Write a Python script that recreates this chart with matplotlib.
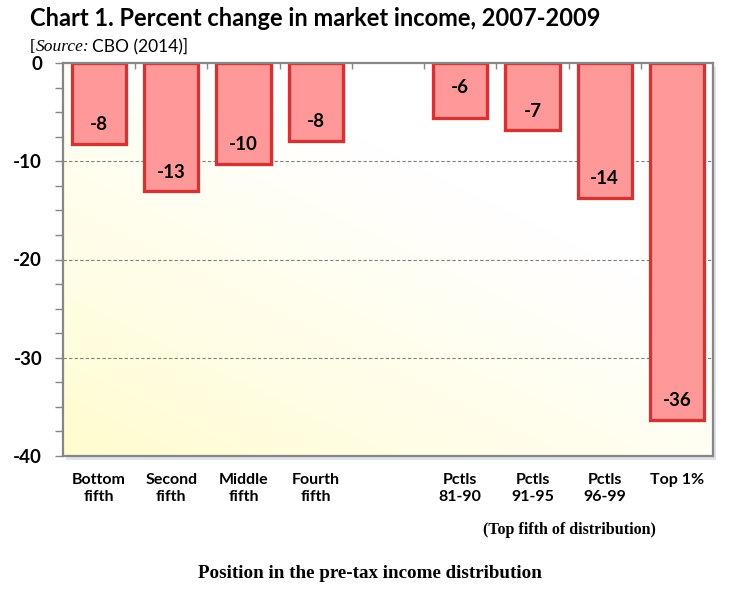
import numpy as np
import matplotlib
matplotlib.use("Agg")
import matplotlib.pyplot as plt
from matplotlib.patches import Rectangle
from matplotlib.ticker import MultipleLocator, FixedLocator

# ---- data ----
categories = ["Bottom\nfifth", "Second\nfifth", "Middle\nfifth", "Fourth\nfifth", "",
              "Pctls\n81-90", "Pctls\n91-95", "Pctls\n96-99", "Top 1%"]
values = [-8.2, -13.0, -10.3, -7.9, np.nan, -5.55, -6.8, -13.7, -36.3]
value_labels = ["-8", "-13", "-10", "-8", "", "-6", "-7", "-14", "-36"]
yticks = [0, -10, -20, -30, -40]
ytick_labels = ["0", "-10", "-20", "-30", "-40"]

SANS = ["Lato", "DejaVu Sans"]
SERIF = ["Liberation Serif", "DejaVu Serif"]

W, H = 731, 595
fig = plt.figure(figsize=(W / 100, H / 100), dpi=100)
fig.patch.set_facecolor("white")

L, R, T, B = 63, 713, 63, 456
# shadow behind plot area
shadow = Rectangle(((L + 3) / W, 1 - (B + 4) / H), (R - L) / W, (B - T) / H,
                   transform=fig.transFigure, facecolor="#dfe4ea",
                   edgecolor="none", zorder=0)
fig.patches.append(shadow)
ax = fig.add_axes([L / W, 1 - B / H, (R - L) / W, (B - T) / H])
ax.set_zorder(2)
n = len(categories)
x = np.arange(n)

# gradient background (light yellow bottom-left -> white top-right)
nx, ny = 200, 200
xn = np.linspace(0, 1, nx)[None, :]
yn = np.linspace(1, 0, ny)[:, None]
d = np.clip((xn * 0.9 + yn * 1.1) / 1.3, 0, 1) ** 0.8
yellow = np.array([1.0, 0.99, 0.80])
white = np.array([1.0, 1.0, 1.0])
img = yellow[None, None, :] * (1 - d[..., None]) + white[None, None, :] * d[..., None]
ax.imshow(img, extent=[-0.5, n - 0.5, -40, 0], aspect="auto", zorder=0,
          interpolation="bilinear")
ax.set_xlim(-0.5, n - 0.5)
ax.set_ylim(-40, 0)

# gridlines
for g in yticks[1:-1]:
    ax.axhline(g, color="#7f7f7f", lw=0.8, ls=(0, (3, 2)), zorder=1)

# bars
vals = np.array(values, dtype=float)
mask = ~np.isnan(vals)
ax.bar(x[mask], vals[mask], width=0.75, color="#FF9999", edgecolor="#D23434",
       linewidth=2.4, zorder=3)

# value labels
label_offsets = [1.9, 1.9, 2.0, 1.9, 0, 3.1, 1.9, 1.9, 1.9]
for xi, v, lab, off in zip(x, vals, value_labels, label_offsets):
    if np.isnan(v):
        continue
    ax.text(xi, v + off, lab, ha="center", va="center", fontsize=13.5,
            fontweight="bold", family=SANS, zorder=4, color="black")

# spines
for s in ax.spines.values():
    s.set_color("#868686")
    s.set_linewidth(1.6)
    s.set_zorder(5)

# y axis
ax.set_yticks(yticks)
ax.set_yticklabels(ytick_labels, fontsize=13.5, fontweight="bold", family=SANS)
ax.yaxis.set_minor_locator(MultipleLocator(2.5))
ax.tick_params(axis="y", which="both", direction="out", length=6, width=1,
               color="#868686", pad=9, left=True, right=False)

# x axis
ax.set_xticks(x)
ax.set_xticklabels(categories, fontsize=11.5, fontweight="bold", family=SANS,
                   linespacing=1.32, va="top")
ax.xaxis.set_minor_locator(FixedLocator(np.arange(0.5, n - 0.5, 1)))
ax.tick_params(axis="x", which="major", length=0, pad=12, bottom=False, top=False)
ax.tick_params(axis="x", which="minor", direction="in", length=4, width=1,
               color="#868686", top=True, bottom=False)

# title
fig.text(30 / W, 1 - 18 / H, "Chart 1. Percent change in market income, 2007-2009",
         fontsize=17, fontweight="bold", family=SANS, va="center", ha="left")

# source line
fig.canvas.draw()
r = fig.canvas.get_renderer()
ybase = 1 - 51 / H
t1 = fig.text(30 / W, ybase, "[", fontsize=12.5, family=SERIF, va="baseline")
xpos = t1.get_window_extent(r).x1 / W
t2 = fig.text(xpos, ybase, "Source:", fontsize=12.5, family=SERIF, style="italic",
              va="baseline")
xpos = t2.get_window_extent(r).x1 / W + 3 / W
t3 = fig.text(xpos, ybase, "CBO (2014)]", fontsize=12.5, family=SANS, va="baseline")

# bottom annotations
fig.text(569 / W, 1 - 530 / H, "(Top fifth of distribution)", fontsize=11.5,
         fontweight="bold", family=SERIF, ha="center", va="center")
fig.text(370 / W, 1 - 573 / H, "Position in the pre-tax income distribution",
         fontsize=13.7, fontweight="bold", family=SERIF, ha="center", va="center")

fig.savefig("out.png", dpi=100)
